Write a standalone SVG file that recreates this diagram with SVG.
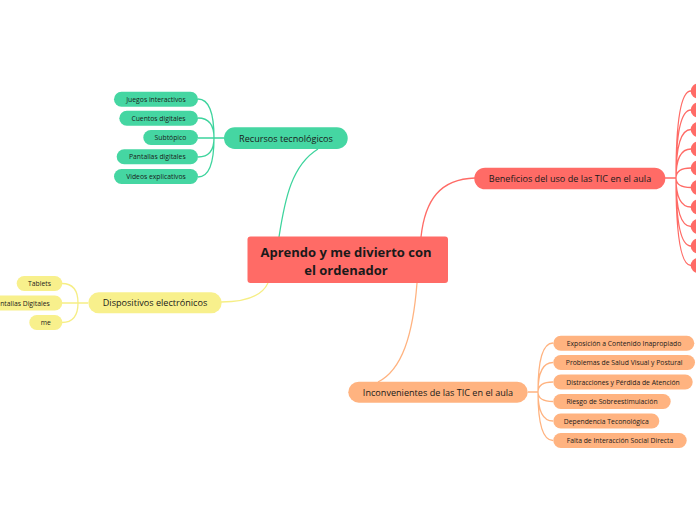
<svg xmlns="http://www.w3.org/2000/svg" width="696" height="520" viewBox="0 0 696 520">
<style>
text{font-family:"Open Sans","Noto Sans","DejaVu Sans",sans-serif;fill:#1a1a1a;text-anchor:middle;dominant-baseline:central}
.c{fill:none;stroke-width:1.3}
.red{fill:#FF6B66}.grn{fill:#45D6A2}.yel{fill:#F8F08C}.org{fill:#FFB380}
.sr{stroke:#FF6B66}.sg{stroke:#3DD49D}.sy{stroke:#F6EE85}.so{stroke:#FFB380}
.t1{font-size:13px;font-weight:bold}
.t2{font-size:9.1px}
.t3{font-size:6.8px}
</style>
<rect width="696" height="520" fill="#ffffff"/>
<g id="connectors">
  <path class="c sg" d="M279 237 C285 198 292 165 318 149"/>
  <path class="c sr" d="M421 237 C425 200 440 179 475 178"/>
  <path class="c so" d="M417 283 C413 335 402 370 378 382"/>
  <path class="c sy" d="M268 283 C262 296 245 302 221 302"/>
  <path class="c sg" d="M224 138 L214 138 M214 138 Q214 99 198 99 M214 138 Q214 118 198 118 M214 138 L198 138 M214 138 Q214 157 198 157 M214 138 Q214 177 198 177"/>
  <path class="c sr" d="M665 178 L676 178 M676 178 Q676 91 691 91 M676 178 Q676 110 691 110 M676 178 Q676 129.5 691 129.5 M676 178 Q676 149 691 149 M676 178 Q676 168 691 168 M676 178 Q676 187.5 691 187.5 M676 178 Q676 207 691 207 M676 178 Q676 226.5 691 226.5 M676 178 Q676 246 691 246 M676 178 Q676 265.5 691 265.5"/>
  <path class="c so" d="M528 392 L538 392 M538 392 Q538 343 553 343 M538 392 Q538 362.5 553 362.5 M538 392 Q538 382 553 382 M538 392 Q538 401.5 553 401.5 M538 392 Q538 421 553 421 M538 392 Q538 440.5 553 440.5"/>
  <path class="c sy" d="M88 303 L78 303 M78 303 Q78 283.5 62 283.5 M78 303 L62 303 M78 303 Q78 322.5 62 322.5"/>
</g>
<g id="central">
  <rect class="red" x="247.5" y="236.5" width="200.5" height="46.5" rx="3"/>
  <text class="t1" x="346" y="252">Aprendo y me divierto con</text>
  <text class="t1" x="346" y="270">el ordenador</text>
</g>
<g id="recursos">
  <rect class="grn" x="224" y="127.3" width="123.7" height="21.7" rx="10.8"/>
  <text class="t2" x="286" y="138.2">Recursos tecnológicos</text>
</g>
<g id="juegos"><rect class="grn" x="114" y="91.7" width="84" height="15" rx="7.5"/><text class="t3" x="156" y="99.2">Juegos interactivos</text></g>
<g id="cuentos"><rect class="grn" x="119.3" y="110.7" width="78.7" height="15" rx="7.5"/><text class="t3" x="158.5" y="118.2">Cuentos digitales</text></g>
<g id="subtopico"><rect class="grn" x="143.3" y="130" width="54.7" height="15" rx="7.5"/><text class="t3" x="170.5" y="137.5">Subtópico</text></g>
<g id="pantallas"><rect class="grn" x="116.7" y="149.3" width="81.3" height="15" rx="7.5"/><text class="t3" x="157.3" y="156.8">Pantallas digitales</text></g>
<g id="videos"><rect class="grn" x="114" y="169" width="84" height="15" rx="7.5"/><text class="t3" x="156" y="176.5">Videos explicativos</text></g>
<g id="beneficios">
  <rect class="red" x="474.3" y="167.7" width="191" height="21.6" rx="10.8"/>
  <text class="t2" x="570" y="178.5">Beneficios del uso de las TIC en el aula</text>
</g>
<g id="b1"><rect class="red" x="690.7" y="83.5" width="30" height="15" rx="7.5"/></g>
<g id="b2"><rect class="red" x="690.7" y="102.5" width="30" height="15" rx="7.5"/></g>
<g id="b3"><rect class="red" x="690.7" y="122" width="30" height="15" rx="7.5"/></g>
<g id="b4"><rect class="red" x="690.7" y="141.5" width="30" height="15" rx="7.5"/></g>
<g id="b5"><rect class="red" x="690.7" y="160.5" width="30" height="15" rx="7.5"/></g>
<g id="b6"><rect class="red" x="690.7" y="180" width="30" height="15" rx="7.5"/></g>
<g id="b7"><rect class="red" x="690.7" y="199.5" width="30" height="15" rx="7.5"/></g>
<g id="b8"><rect class="red" x="690.7" y="219" width="30" height="15" rx="7.5"/></g>
<g id="b9"><rect class="red" x="690.7" y="238.5" width="30" height="15" rx="7.5"/></g>
<g id="b10"><rect class="red" x="690.7" y="258" width="30" height="15" rx="7.5"/></g>
<g id="inconvenientes">
  <rect class="org" x="348.3" y="381.7" width="179.4" height="21" rx="10.5"/>
  <text class="t2" x="438" y="392.2">Inconvenientes de las TIC en el aula</text>
</g>
<g id="i1"><rect class="org" x="553.3" y="335.7" width="141" height="15" rx="7.5"/><text class="t3" x="624" y="343.2">Exposición a Contenido Inapropiado</text></g>
<g id="i2"><rect class="org" x="553.3" y="355" width="141.7" height="15" rx="7.5"/><text class="t3" x="624.2" y="362.5">Problemas de Salud Visual y Postural</text></g>
<g id="i3"><rect class="org" x="553.3" y="374.5" width="139.4" height="15" rx="7.5"/><text class="t3" x="623" y="382">Distracciones y Pérdida de Atención</text></g>
<g id="i4"><rect class="org" x="553.3" y="394" width="117.4" height="15" rx="7.5"/><text class="t3" x="612" y="401.5">Riesgo de Sobreestimulación</text></g>
<g id="i5"><rect class="org" x="553.3" y="413.5" width="106" height="15" rx="7.5"/><text class="t3" x="606.3" y="421">Dependencia Teconológica</text></g>
<g id="i6"><rect class="org" x="553.3" y="433" width="133.4" height="15" rx="7.5"/><text class="t3" x="620" y="440.5">Falta de Interacción Social Directa</text></g>
<g id="dispositivos">
  <rect class="yel" x="88.3" y="292.3" width="133.4" height="21" rx="10.5"/>
  <text class="t2" x="155" y="302.8">Dispositivos electrónicos</text>
</g>
<g id="tablets"><rect class="yel" x="16.7" y="276" width="45.6" height="15" rx="7.5"/><text class="t3" x="39.5" y="283.5">Tablets</text></g>
<g id="pantallasdig"><rect class="yel" x="-20" y="295.5" width="82.3" height="15" rx="7.5"/><text class="t3" x="21" y="303">Pantallas Digitales</text></g>
<g id="me"><rect class="yel" x="29.3" y="315" width="33" height="15" rx="7.5"/><text class="t3" x="45.8" y="322.5">me</text></g>
</svg>
